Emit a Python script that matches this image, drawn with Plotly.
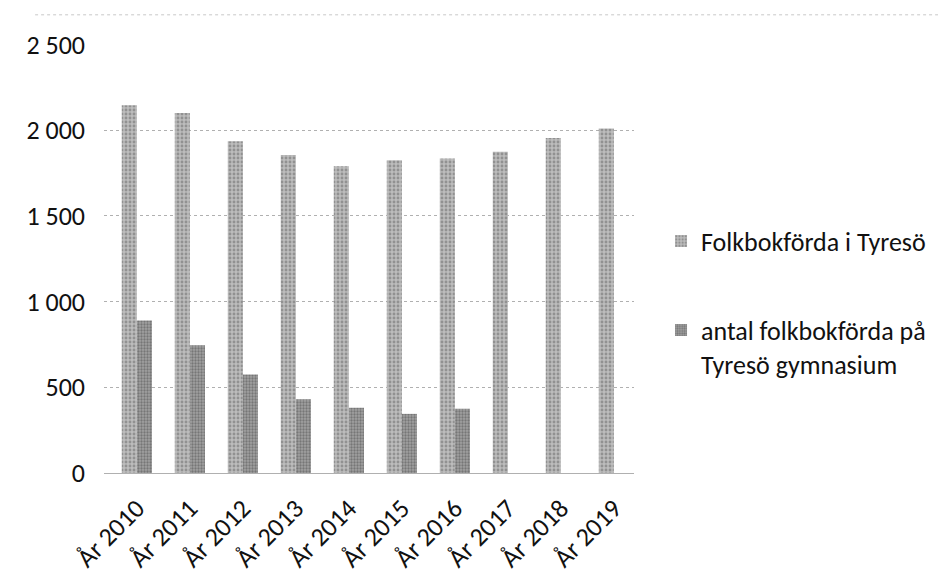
import plotly.graph_objects as go

categories = ["År 2010", "År 2011", "År 2012", "År 2013", "År 2014",
              "År 2015", "År 2016", "År 2017", "År 2018", "År 2019"]
folkbokforda = [2145, 2100, 1935, 1855, 1790, 1825, 1835, 1875, 1955, 2010]
gymnasium = [890, 745, 575, 430, 380, 345, 375, None, None, None]
tick_vals = [0, 500, 1000, 1500, 2000, 2500]
tick_text = ["0", "500", "1 000", "1 500", "2 000", "2 500"]

font_family = "Carlito, Lato, 'Open Sans', sans-serif"

fig = go.Figure()
fig.add_trace(go.Bar(
    x=categories, y=folkbokforda, name="Folkbokförda i Tyresö",
    legendgroup="a",
    marker=dict(color="#b0b0b0", line=dict(width=0),
                pattern=dict(shape=".", fgcolor="#666666", bgcolor="#bcbcbc", size=4, solidity=0.4)),
))
fig.add_trace(go.Bar(
    x=categories, y=gymnasium, name="antal folkbokförda på<br>Tyresö gymnasium",
    legendgroup="b",
    marker=dict(color="#8c8c8c", line=dict(width=0),
                pattern=dict(shape=".", fgcolor="#4c4c4c", bgcolor="#a0a0a0", size=3, solidity=0.45)),
))

fig.update_layout(
    width=946, height=585,
    margin=dict(l=96, r=320, t=36, b=120),
    paper_bgcolor="white", plot_bgcolor="white",
    barmode="group", bargap=0.43, bargroupgap=0,
    font=dict(family=font_family, size=24, color="#111111"),
    showlegend=True,
    legend=dict(x=1.051, y=0.397, xanchor="left", yanchor="middle",
                traceorder="grouped", tracegroupgap=52, valign="top",
                font=dict(size=26, color="#111111"), itemwidth=30,
                bgcolor="rgba(0,0,0,0)"),
    shapes=[dict(type="line", xref="paper", yref="paper", x0=-0.13, x1=1.62, y0=1.068, y1=1.068,
                 line=dict(color="#c8c8c8", width=1, dash="dot"))],
)
fig.update_xaxes(
    range=[-0.62, 9.38],
    tickangle=-45, showgrid=False, showline=False, ticks="",
    tickfont=dict(size=26), ticklabelstandoff=14, automargin=False,
)
fig.update_yaxes(
    range=[0, 2503], tickvals=tick_vals, ticktext=tick_text,
    showgrid=True, gridcolor="#b0b0b0", griddash="dot", gridwidth=1,
    zeroline=True, zerolinecolor="#b0b0b0", zerolinewidth=1,
    showline=False, ticks="", ticklabelstandoff=18,
    tickfont=dict(size=26), automargin=False,
)

fig.write_html("out.html")
